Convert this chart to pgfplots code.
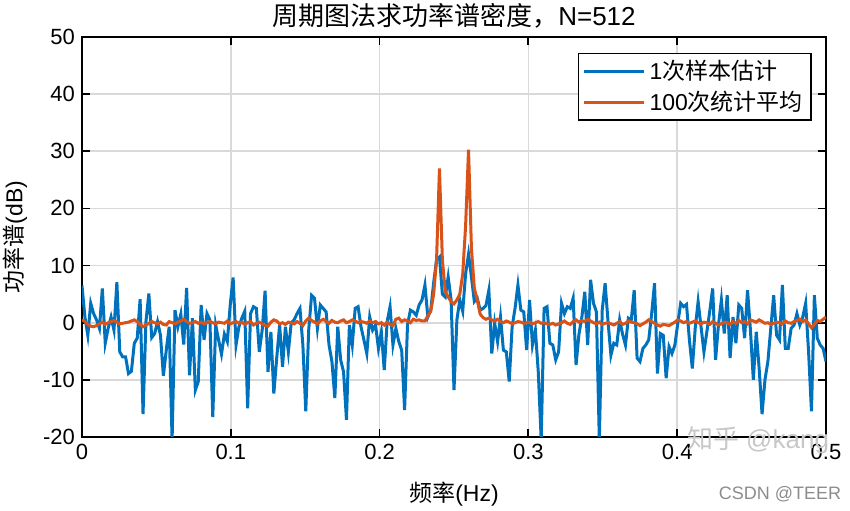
\documentclass[border=0pt]{standalone}
\usepackage{pgfplots}
\pgfplotsset{compat=1.18}
\usepackage{pgfplotstable}
\usepackage{fontspec}
\setmainfont{Liberation Sans}
\newfontfamily\cjk{Noto Sans CJK SC}
\usetikzlibrary{calc}
\definecolor{mblue}{RGB}{0,114,189}
\definecolor{morange}{RGB}{217,83,25}

% k = frequency bin (f = k/512), b = one periodogram (dB), o = average of 100 (dB)
\pgfplotstableread{
k b o
0 6.5 0.5
1 1.0 0.2
2 -2.2 -0.3
3 3.4 -0.6
4 1.6 -0.7
5 0.5 -0.5
6 -1.0 -0.2
7 6.0 0.1
8 -3.6 -0.3
9 -1.0 0.0
10 1.0 0.2
11 -1.3 0.4
12 7.1 0.1
13 -5.1 -0.2
14 -6.0 -0.1
15 -6.0 0.0
16 -8.9 0.1
17 -8.5 0.3
18 -3.6 0.5
19 -2.7 0.2
20 4.1 -0.3
21 -16.0 -0.7
22 0.2 -0.4
23 5.1 -0.1
24 -2.6 0.2
25 -1.9 0.0
26 0.2 -0.2
27 -2.2 0.1
28 -9.3 -0.3
29 -4.8 -0.4
30 -0.7 0.2
31 -20.5 0.0
32 2.2 -0.2
33 -0.7 0.1
34 1.5 0.3
35 -3.8 0.6
36 6.1 0.2
37 -9.2 -0.1
38 0.8 0.0
39 -11.8 0.2
40 -10.3 -0.1
41 3.1 0.1
42 -3.0 -0.2
43 1.6 0.0
44 0.5 0.2
45 -16.5 0.0
46 -0.4 -0.2
47 -3.0 0.1
48 -5.5 0.0
49 -2.0 -0.1
50 -3.3 0.3
51 3.1 -0.2
52 7.9 0.0
53 -3.9 0.2
54 -0.7 -0.1
55 0.8 0.1
56 2.0 -0.3
57 -15.0 0.0
58 1.6 0.2
59 2.8 -0.4
60 2.5 -0.1
61 -5.1 0.1
62 -1.3 -0.2
63 5.6 -0.5
64 -8.6 -0.6
65 -1.6 0.1
66 -12.4 0.5
67 -6.2 0.3
68 -0.4 -0.2
69 -7.7 0.0
70 -0.7 -0.3
71 -5.1 0.1
72 0.0 0.0
73 0.5 -0.2
74 1.6 0.2
75 2.5 -0.1
76 -3.9 -0.5
77 -15.5 0.3
78 -1.3 0.8
79 4.8 0.4
80 4.3 0.1
81 -1.0 -0.2
82 3.1 0.3
83 2.5 0.6
84 1.9 0.2
85 -3.9 -0.1
86 -6.8 0.4
87 -13.2 0.1
88 -0.7 0.0
89 -6.5 0.3
90 -8.6 0.5
91 -17.0 0.0
92 -0.4 0.2
93 -3.9 0.5
94 2.5 0.3
95 2.8 0.0
96 -0.7 0.2
97 -3.0 0.1
98 -5.4 -0.1
99 1.0 0.3
100 -1.3 0.0
101 -0.4 0.2
102 -4.5 -0.2
103 -1.6 0.0
104 -8.3 -0.4
105 0.2 0.1
106 2.8 -0.3
107 -3.9 -0.5
108 -1.0 0.6
109 -3.3 0.8
110 -4.8 0.2
111 -15.3 0.5
112 -0.4 0.3
113 2.2 0.0
114 1.9 0.6
115 1.3 0.4
116 3.1 0.5
117 4.0 0.3
118 6.6 0.3
119 1.0 1.2
120 2.2 2.0
121 7.0 5.0
122 11.0 11.0
123 11.5 27.0
124 5.0 11.0
125 4.5 5.5
126 8.0 4.5
127 4.0 3.7
128 -11.8 3.3
129 0.5 4.0
130 4.0 5.0
131 2.0 8.5
132 8.6 17.0
133 12.0 30.3
134 8.0 13.0
135 3.7 6.0
136 4.3 4.0
137 2.2 1.5
138 2.5 0.9
139 3.0 0.6
140 5.7 0.8
141 -5.4 0.5
142 -0.1 0.3
143 -3.3 0.6
144 1.0 0.2
145 -4.8 0.0
146 -5.1 0.3
147 -10.3 0.1
148 -0.7 -0.2
149 2.5 0.0
150 6.6 0.2
151 2.2 0.1
152 1.9 -0.1
153 -4.8 0.0
154 4.0 0.1
155 -3.9 -0.2
156 -1.3 0.0
157 -8.6 0.2
158 -20.5 -0.1
159 2.5 0.0
160 2.8 -0.2
161 -3.6 -0.3
162 -3.9 -0.1
163 -6.5 -0.4
164 -5.1 -0.2
165 3.4 0.0
166 1.6 0.3
167 2.8 -0.1
168 2.5 -0.3
169 4.3 0.2
170 -7.4 0.5
171 -2.0 0.1
172 1.0 0.4
173 5.4 0.2
174 -3.9 0.6
175 7.5 0.3
176 3.4 0.0
177 1.9 -0.2
178 -20.5 0.1
179 2.2 -0.3
180 6.9 -0.1
181 0.2 0.0
182 -5.7 -0.2
183 -3.6 -0.4
184 -3.9 -0.1
185 0.5 0.2
186 -2.0 -0.3
187 -3.9 -0.1
188 0.8 0.3
189 0.5 0.1
190 5.7 0.0
191 -6.2 -0.2
192 -6.8 -0.5
193 -4.5 -0.2
194 -3.9 0.1
195 -3.0 0.5
196 1.5 0.2
197 6.9 -0.1
198 -8.9 -0.4
199 -1.9 -0.6
200 -2.2 -0.3
201 -9.7 -0.4
202 -4.2 -0.5
203 -5.4 -0.2
204 -3.9 0.1
205 -0.1 0.5
206 3.4 0.3
207 2.8 0.0
208 3.2 0.2
209 -3.0 -0.1
210 -8.0 0.1
211 -1.0 0.3
212 3.7 0.0
213 -0.7 -0.2
214 -5.1 0.1
215 -1.6 0.0
216 2.0 -0.3
217 6.0 0.2
218 -6.5 -0.1
219 -0.4 -0.4
220 4.0 -0.2
221 -1.9 0.1
222 4.8 0.0
223 -6.2 -0.3
224 1.0 0.2
225 -3.6 -0.1
226 3.1 0.4
227 2.5 0.0
228 -2.7 0.2
229 5.7 -0.2
230 -1.3 0.5
231 -10.0 0.3
232 -1.6 0.1
233 -8.0 0.5
234 -16.0 0.2
235 -10.0 -0.1
236 -6.8 0.0
237 -1.0 -0.3
238 4.8 -0.1
239 -2.2 0.1
240 -3.0 0.0
241 6.6 -0.2
242 -4.5 0.3
243 -4.5 0.0
244 -1.0 -0.1
245 -0.4 0.2
246 1.6 0.4
247 -0.4 0.6
248 1.0 0.2
249 3.4 0.5
250 -5.0 -0.2
251 -15.5 -0.9
252 4.8 -0.3
253 -2.7 0.4
254 -3.9 0.2
255 -4.5 0.6
256 -6.8 1.0
}\psd

\begin{document}
\begin{tikzpicture}
\begin{axis}[
  scale only axis,
  width=372pt, height=200pt,
  xmin=0, xmax=0.5, ymin=-20, ymax=50,
  xtick={0,0.1,0.2,0.3,0.4,0.5},
  xticklabels={0,0.1,0.2,0.3,0.4,0.5},
  ytick={-20,-10,0,10,20,30,40,50},
  yticklabels={-20,-10,0,10,20,30,40,50},
  tick label style={font=\fontsize{11}{13}\selectfont},
  tick align=inside, tick pos=both,
  major tick length=4pt,
  every tick/.style={black, line width=0.9pt},
  axis line style={black, line width=1.1pt},
  grid=major,
  major grid style={black!15, line width=0.8pt},
  xlabel={{\cjk 频率}(Hz)},
  ylabel={{\cjk 功率谱}(dB)},
  label style={font=\fontsize{11.5}{13}\selectfont},
  xlabel style={at={(axis description cs:0.5,-0.1425)}, anchor=center},
  ylabel style={at={(axis description cs:-0.09,0.5)}, anchor=center},
  legend style={at={(0.981,0.961)}, anchor=north east, draw=black, line width=0.9pt,
    font=\fontsize{11.5}{13.5}\selectfont, inner xsep=2pt, inner ysep=1.5pt,
    cells={anchor=west}},
  legend image code/.code={\draw[#1] (0pt,0pt) -- (30pt,0pt);},
]
\addplot[mblue, line width=1.5pt] table[x expr=\thisrow{k}/512, y=b] {\psd};
\addlegendentry{1{\cjk 次样本估计}}
\addplot[morange, line width=1.5pt] table[x expr=\thisrow{k}/512, y=o] {\psd};
\addlegendentry{100{\cjk 次统计平均}}
\coordinate (ll) at (rel axis cs:0,0);
\coordinate (ur) at (rel axis cs:1,1);
\end{axis}
% title
\node[anchor=base, font=\fontsize{13}{15}\selectfont] at ($(ur)+(-186pt,5.5pt)$) {{\cjk 周期图法求功率谱密度，}N=512};
% watermarks
\node[text=black!22, font=\fontsize{13}{15}\selectfont] at ($(ll)+(338pt,-1.5pt)$) {{\cjk 知乎} @kang};
\node[text=black!45, font=\fontsize{9}{11}\selectfont] at ($(ll)+(349pt,-28.5pt)$) {CSDN @TEER};
\pgfresetboundingbox
\path[use as bounding box] ($(ll)+(-41pt,-37pt)$) rectangle ($(ur)+(12pt,18.5pt)$);
\end{tikzpicture}
\end{document}
